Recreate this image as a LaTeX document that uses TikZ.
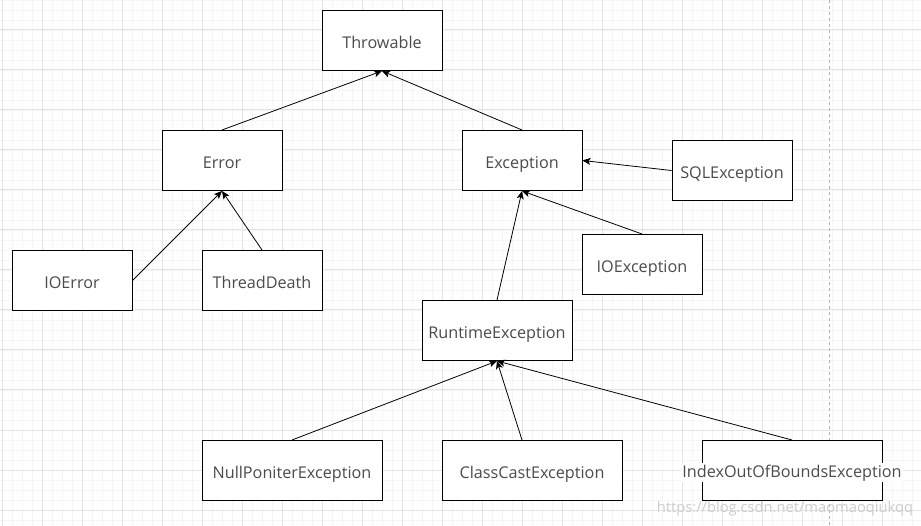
\documentclass[tikz,border=0pt]{standalone}
\usepackage{fontspec}
\setmainfont{Open Sans}
\usetikzlibrary{arrows.meta}

\definecolor{minorline}{RGB}{245,245,245}
\definecolor{majorline}{RGB}{228,228,228}
\definecolor{labelgray}{RGB}{75,75,75}
\definecolor{markgray}{RGB}{205,205,205}

\begin{document}
\begin{tikzpicture}[x=1pt, y=-1pt,
    classbox/.style={draw, line width=1pt, fill=white, minimum width=120pt, minimum height=60pt,
        inner sep=0pt, text height=16pt, text depth=0pt, font=\fontsize{16.2}{18}\selectfont, text=labelgray},
    widebox/.style={classbox, minimum width=180pt},
    inherit/.style={line width=0.8pt, -{Stealth[length=8pt, width=7pt, inset=2pt]}}]
            \useasboundingbox (0,0) rectangle (921,526);
            \fill[white] (0,0) rectangle (921,526);
            % grid
            \foreach \x in {2.7,12.7,...,921} \draw[minorline, line width=0.8pt] (\x,0) -- (\x,526);
            \foreach \y in {0,10,...,526} \draw[minorline, line width=0.8pt] (0,\y) -- (921,\y);
            \foreach \x in {2.7,42.7,...,921} \draw[majorline, line width=1pt] (\x,0) -- (\x,526);
            \foreach \y in {30,70,...,526} \draw[majorline, line width=1pt] (0,\y) -- (921,\y);
            \draw[gray!60, line width=0.8pt, dash pattern=on 3pt off 3pt] (829.3,0) -- (829.3,526);
            % classes
            \node[classbox] (throwable) at (382,40.5) {Throwable};
            \node[classbox] (error) at (222,160.5) {Error};
            \node[classbox] (exception) at (522,160.5) {Exception};
            \node[classbox] (sqlexc) at (732,170.5) {SQLException};
            \node[classbox] (ioerror) at (72,280.5) {IOError};
            \node[classbox] (threaddeath) at (262,280.5) {ThreadDeath};
            \node[classbox] (ioexc) at (642,264.5) {IOException};
            \node[classbox, minimum width=150pt] (runtime) at (497,330.5) {RuntimeException};
            \node[widebox] (nullptr) at (292,470.5) {NullPoniterException};
            \node[widebox] (classcast) at (532,470.5) {ClassCastException};
            \node[widebox] (indexoob) at (792,470.5) {};
            \node[fill=white, inner sep=1pt, text height=14pt, text depth=3pt, yshift=-1.5pt,
                font=\fontsize{16.2}{18}\selectfont, text=labelgray] (indexoobtext) at (indexoob) {IndexOutOfBoundsException};
            % inheritance
            \draw[inherit] (error.north) -- (throwable.south);
            \draw[inherit] (exception.north) -- (throwable.south);
            \draw[inherit] (ioerror.east) -- (error.south);
            \draw[inherit] (threaddeath.north) -- (error.south);
            \draw[inherit] (sqlexc.west) -- (exception.east);
            \draw[inherit] (ioexc.north) -- (exception.south);
            \draw[inherit] (runtime.north) -- (exception.south);
            \draw[inherit] (nullptr.north) -- (runtime.south);
            \draw[inherit] ([xshift=-10pt]classcast.north) -- (runtime.south);
            \draw[inherit] (indexoob.north) -- (runtime.south);
            \node[text=markgray, font=\fontsize{14.7}{16}\selectfont, inner sep=0pt] (watermark) at (785,509) {https://blog.csdn.net/maomaoqiukqq};
        \end{tikzpicture}
\end{document}
